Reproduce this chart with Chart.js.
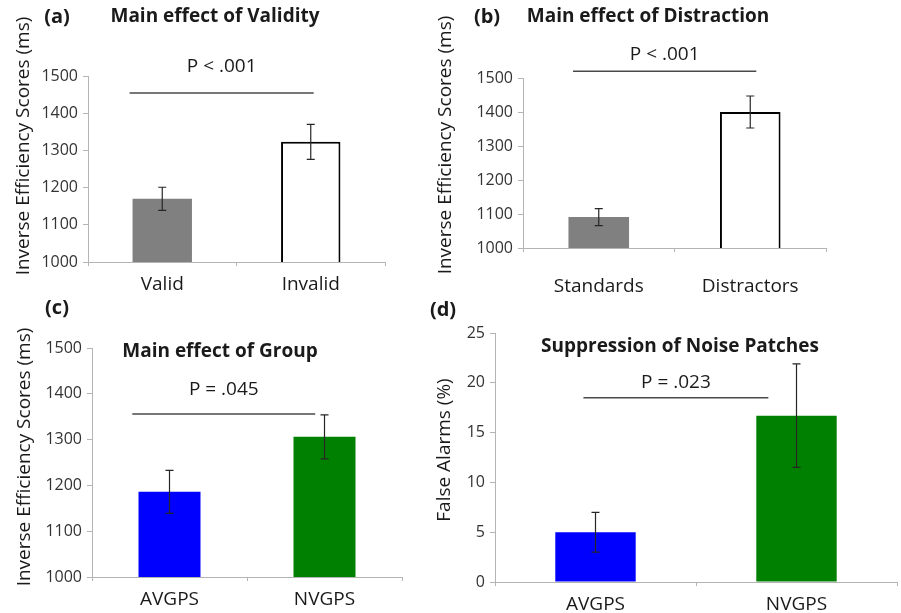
<!DOCTYPE html>
<html>
<head>
<meta charset="utf-8">
<script src="https://cdn.jsdelivr.net/npm/chart.js@4.4.0/dist/chart.umd.min.js"></script>
<style>
  html, body { margin: 0; padding: 0; background: #fff; }
  body { width: 901px; height: 613px; position: relative; overflow: hidden; }
  canvas { position: absolute; }
</style>
</head>
<body>
<canvas id="chartA" width="420" height="300" style="left:0;top:0"></canvas>
<canvas id="chartB" width="481" height="300" style="left:420px;top:0"></canvas>
<canvas id="chartC" width="420" height="323" style="left:0;top:290px"></canvas>
<canvas id="chartD" width="481" height="323" style="left:420px;top:290px"></canvas>
<script>
// Panel data
const validityLabels = ['Valid', 'Invalid'];
const validityMeans = [1170, 1323];
const validityErrors = [31, 47];

const distractionLabels = ['Standards', 'Distractors'];
const distractionMeans = [1091, 1400];
const distractionErrors = [25, 47];

const groupLabels = ['AVGPS', 'NVGPS'];
const groupMeans = [1186, 1306];
const groupErrors = [47, 48];

const noiseLabels = ['AVGPS', 'NVGPS'];
const noiseMeans = [5.0, 16.7];
const noiseErrors = [2.0, 5.2];

const rtTicks = [1000, 1100, 1200, 1300, 1400, 1500];
const faTicks = [0, 5, 10, 15, 20, 25];

const AXIS_GREY = '#b4b4b4';
const TEXT = '#1a1a1a';

Chart.defaults.font.family = "'Open Sans', sans-serif";

// error bars, significance bar and the panel texts
const panelDecor = {
    id: 'panelDecor',
    afterDatasetsDraw(chart, args, opts) {
        const { ctx, scales: { x, y } } = chart;
        const values = chart.data.datasets[0].data;

        ctx.save();
        ctx.strokeStyle = '#262626';
        ctx.lineWidth = 1.2;
        opts.errors.forEach((err, i) => {
            const px = x.getPixelForValue(i);
            const top = y.getPixelForValue(values[i] + err);
            const bot = y.getPixelForValue(values[i] - err);
            ctx.beginPath();
            ctx.moveTo(px, top); ctx.lineTo(px, bot);
            ctx.moveTo(px - 4, top); ctx.lineTo(px + 4, top);
            ctx.moveTo(px - 4, bot); ctx.lineTo(px + 4, bot);
            ctx.stroke();
        });

        // significance line
        const x0 = x.getPixelForValue(opts.sigFrom);
        const x1 = x.getPixelForValue(opts.sigTo);
        const sy = y.getPixelForValue(opts.sigValue);
        ctx.strokeStyle = '#4a4a4a';
        ctx.lineWidth = 1.5;
        ctx.beginPath();
        ctx.moveTo(x0, sy);
        ctx.lineTo(x1, sy);
        ctx.stroke();

        ctx.fillStyle = TEXT;
        ctx.font = "19px 'Open Sans', sans-serif";
        ctx.textAlign = 'center';
        ctx.textBaseline = 'middle';
        ctx.fillText(opts.pText, (x0 + x1) / 2, y.getPixelForValue(opts.pValue));
        ctx.restore();
    },
    afterDraw(chart, args, opts) {
        const { ctx } = chart;
        ctx.save();
        ctx.fillStyle = TEXT;
        ctx.textBaseline = 'middle';
        ctx.textAlign = 'center';

        ctx.font = "bold 20px 'Open Sans', sans-serif";
        ctx.fillText(opts.letter, opts.letterPos[0], opts.letterPos[1]);

        ctx.font = "bold 19px 'Open Sans', sans-serif";
        ctx.fillText(opts.title, opts.titlePos[0], opts.titlePos[1]);

        ctx.font = "19px 'Open Sans', sans-serif";
        ctx.translate(opts.yTitlePos[0], opts.yTitlePos[1]);
        ctx.rotate(-Math.PI / 2);
        ctx.fillText(opts.yTitle, 0, 0);
        ctx.restore();
    }
};

function makePanel(id, cfg) {
    return new Chart(document.getElementById(id), {
        type: 'bar',
        data: {
            labels: cfg.labels,
            datasets: [{
                data: cfg.means,
                backgroundColor: cfg.colors,
                borderColor: cfg.borders,
                borderWidth: cfg.borderWidth,
                borderSkipped: false,
                barPercentage: 0.4,
                categoryPercentage: 1
            }]
        },
        options: {
            responsive: false,
            animation: false,
            layout: { padding: cfg.padding },
            plugins: {
                legend: { display: false },
                tooltip: { enabled: false },
                panelDecor: cfg.decor
            },
            scales: {
                x: {
                    grid: { drawOnChartArea: false, tickLength: 4, color: AXIS_GREY },
                    border: { color: AXIS_GREY, width: 1 },
                    ticks: { padding: cfg.xPad, color: TEXT, font: { size: 19 }, maxRotation: 0 },
                    afterFit: (scale) => { scale.height = cfg.xHeight; }
                },
                y: {
                    min: cfg.ticks[0],
                    max: cfg.ticks[cfg.ticks.length - 1],
                    afterBuildTicks: (scale) => { scale.ticks = cfg.ticks.map(v => ({ value: v })); },
                    grid: { drawOnChartArea: false, tickLength: 5, color: AXIS_GREY },
                    border: { color: AXIS_GREY, width: 1 },
                    ticks: {
                        padding: 5,
                        color: '#333333',
                        font: { size: 16 },
                        callback: (value) => String(value)
                    },
                    afterFit: (scale) => { scale.width = cfg.yWidth; }
                }
            }
        },
        plugins: [panelDecor]
    });
}

const rtTitle = 'Inverse Efficiency Scores (ms)';

makePanel('chartA', {
    labels: validityLabels, means: validityMeans, ticks: rtTicks,
    colors: ['#808080', '#ffffff'], borders: ['#808080', '#000000'], borderWidth: [0, 2],
    padding: { left: 0, right: 35, top: 76, bottom: 0 },
    yWidth: 88, xHeight: 38, xPad: 7,
    decor: {
        errors: validityErrors, sigFrom: -0.22, sigTo: 1.02, sigValue: 1454,
        pText: 'P < .001', pValue: 1524,
        letter: '(a)', letterPos: [57, 17],
        title: 'Main effect of Validity', titlePos: [215, 17],
        yTitle: rtTitle, yTitlePos: [24, 146]
    }
});

makePanel('chartB', {
    labels: distractionLabels, means: distractionMeans, ticks: rtTicks,
    colors: ['#808080', '#ffffff'], borders: ['#808080', '#000000'], borderWidth: [0, 2],
    padding: { left: 0, right: 75, top: 78, bottom: 0 },
    yWidth: 103, xHeight: 52, xPad: 23,
    decor: {
        errors: distractionErrors, sigFrom: -0.17, sigTo: 1.04, sigValue: 1520,
        pText: 'P < .001', pValue: 1568,
        letter: '(b)', letterPos: [67, 17],
        title: 'Main effect of Distraction', titlePos: [228, 17],
        yTitle: rtTitle, yTitlePos: [26, 145]
    }
});

makePanel('chartC', {
    labels: groupLabels, means: groupMeans, ticks: rtTicks,
    colors: ['#0000ff', '#008000'], borders: ['#0000ff', '#008000'], borderWidth: 0,
    padding: { left: 0, right: 18, top: 58, bottom: 0 },
    yWidth: 92, xHeight: 36, xPad: 7,
    decor: {
        errors: groupErrors, sigFrom: -0.24, sigTo: 0.94, sigValue: 1356,
        pText: 'P = .045', pValue: 1410,
        letter: '(c)', letterPos: [57, 18],
        title: 'Main effect of Group', titlePos: [220, 62],
        yTitle: rtTitle, yTitlePos: [25, 167]
    }
});

makePanel('chartD', {
    labels: noiseLabels, means: noiseMeans, ticks: faTicks,
    colors: ['#0000ff', '#008000'], borders: ['#0000ff', '#008000'], borderWidth: 0,
    padding: { left: 0, right: 4, top: 43, bottom: 0 },
    yWidth: 75, xHeight: 31, xPad: 7,
    decor: {
        errors: noiseErrors, sigFrom: -0.06, sigTo: 0.86, sigValue: 18.5,
        pText: 'P = .023', pValue: 20.0,
        letter: '(d)', letterPos: [23, 20],
        title: 'Suppression of Noise Patches', titlePos: [260, 57],
        yTitle: 'False Alarms (%)', yTitlePos: [25, 160]
    }
});
</script>
</body>
</html>
